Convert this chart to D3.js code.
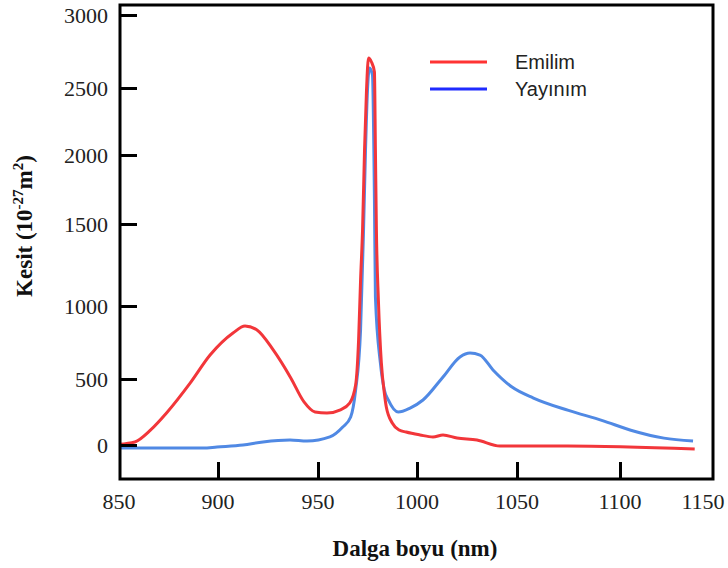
<!DOCTYPE html>
<html>
<head>
<meta charset="utf-8">
<script src="https://cdn.jsdelivr.net/npm/d3@7"></script>
<style>
  body { margin: 0; background: #fff; }
</style>
</head>
<body>
<div id="chart"></div>
<script>
// data (nm, 10^-27 m^2)
const emilim_x = [850, 858, 866, 874, 886, 896, 907.5, 913.5, 919.5, 927.6, 936.4, 943, 948.5, 954.5, 961, 966, 969, 970.5, 971.5, 972.5, 973.5, 974.5, 975.5, 977, 978.5, 979, 979.5, 980.5, 982, 983.5, 984.5, 987.5, 991, 994.5, 1001.5, 1008, 1013, 1020, 1030, 1041.5, 1074.5, 1145];
const emilim_y = [5, 23, 114, 242, 470, 664, 815, 863, 836, 699, 507, 326, 250, 242, 265, 318, 455, 767, 1159, 1463, 2037, 2485, 2705, 2678, 2610, 2037, 1463, 1037, 610, 394, 288, 167, 114, 98, 76, 61, 76, 53, 38, -8, -8, -30];

const yayinim_x = [850, 892.5, 899.5, 912.5, 922.5, 936, 944.5, 956, 962.5, 966.5, 969, 971.5, 973, 974, 975, 976, 977.5, 978.5, 979, 981.5, 983.5, 985.5, 990.5, 996.5, 1003, 1013, 1021.5, 1026.5, 1031.5, 1038, 1047.5, 1058, 1075, 1091.5, 1106.5, 1126.5, 1144];
const yayinim_y = [-23, -23, -15, 0, 23, 38, 30, 61, 136, 212, 417, 836, 1463, 2037, 2485, 2637, 2589, 1674, 1055, 610, 417, 341, 250, 280, 341, 514, 651, 678, 664, 562, 439, 356, 262, 185, 112, 52, 30];

const x_ticks = [850, 900, 950, 1000, 1050, 1100, 1150];
const y_ticks = [0, 500, 1000, 1500, 2000, 2500, 3000];
const series_names = ['Emilim', 'Yayınım'];

// layout
const SVG_WIDTH = 728;
const SVG_HEIGHT = 568;
// the hand drawn axes are not evenly spaced, so the scales are piecewise
const X_TICK_PX = [119, 218, 318, 417, 517, 620, 703];
const Y_TICK_PX = [445, 379, 306, 224, 155, 88, 15];
const FRAME = [5, 713, 479, 120];   // top, right, bottom, left
const TICK_LEN = 17;
const AXIS_W = 3;

const RED = '#f2363a';
const BLUE = '#5089e4';
const LEGEND_COLORS = ['#ff3333', '#1f2bff'];

const svg = d3.select('#chart')
    .append('svg')
    .attr('width', SVG_WIDTH)
    .attr('height', SVG_HEIGHT)
;

const x = d3.scaleLinear().domain(x_ticks).range(X_TICK_PX);
const y = d3.scaleLinear().domain(y_ticks).range(Y_TICK_PX);

const line = d3.line()
    .x(d => x(d[0]))
    .y(d => y(d[1]))
    .curve(d3.curveMonotoneX)
;

// curves
const curves = [
    {pts: d3.zip(yayinim_x, yayinim_y), color: BLUE},
    {pts: d3.zip(emilim_x, emilim_y), color: RED}
];
svg.append('g')
    .selectAll('path')
    .data(curves)
    .join('path')
    .attr('d', d => line(d.pts))
    .attr('fill', 'none')
    .attr('stroke', d => d.color)
    .attr('stroke-width', 3)
    .attr('stroke-linejoin', 'round')
;

// frame
svg.append('rect')
    .attr('x', FRAME[3])
    .attr('y', FRAME[0])
    .attr('width', FRAME[1] - FRAME[3])
    .attr('height', FRAME[2] - FRAME[0])
    .attr('fill', 'none')
    .attr('stroke', '#000')
    .attr('stroke-width', AXIS_W)
;

// y axis
const y_axis = d3.axisRight(y)
    .tickValues(y_ticks)
    .tickSize(TICK_LEN)
    .tickFormat('')
;
const yg = svg.append('g')
    .attr('transform', `translate(${FRAME[3]},0)`)
    .call(y_axis)
;
yg.select('.domain').remove();
yg.selectAll('line').attr('stroke', '#000').attr('stroke-width', AXIS_W);

svg.append('g')
    .selectAll('text')
    .data(y_ticks)
    .join('text')
    .attr('x', 108)
    .attr('y', d => y(d))
    .attr('dy', '0.35em')
    .attr('text-anchor', 'end')
    .attr('font-family', 'Liberation Serif, serif')
    .attr('font-size', 22)
    .attr('fill', '#222')
    .text(d => d)
;

// x axis
const x_axis = d3.axisTop(x)
    .tickValues(x_ticks.slice(1, -1))
    .tickSize(TICK_LEN)
    .tickFormat('')
;
const xg = svg.append('g')
    .attr('transform', `translate(0,${FRAME[2]})`)
    .call(x_axis)
;
xg.select('.domain').remove();
xg.selectAll('line').attr('stroke', '#000').attr('stroke-width', AXIS_W);

svg.append('g')
    .selectAll('text')
    .data(x_ticks)
    .join('text')
    .attr('x', d => x(d))
    .attr('y', 509)
    .attr('text-anchor', 'middle')
    .attr('font-family', 'Liberation Serif, serif')
    .attr('font-size', 22)
    .attr('fill', '#222')
    .text(d => d)
;

// axis titles
svg.append('text')
    .attr('x', 415)
    .attr('y', 556)
    .attr('text-anchor', 'middle')
    .attr('font-family', 'Liberation Serif, serif')
    .attr('font-weight', 'bold')
    .attr('font-size', 23)
    .attr('fill', '#111')
    .text('Dalga boyu (nm)')
;

const ylab = svg.append('text')
    .attr('transform', 'translate(32,226) rotate(-90)')
    .attr('text-anchor', 'middle')
    .attr('font-family', 'Liberation Serif, serif')
    .attr('font-weight', 'bold')
    .attr('font-size', 23)
    .attr('fill', '#111')
;
ylab.append('tspan').text('Kesit (10');
ylab.append('tspan').attr('dy', -9).attr('font-size', 15).text('-27');
ylab.append('tspan').attr('dy', 9).text('m');
ylab.append('tspan').attr('dy', -9).attr('font-size', 15).text('2');
ylab.append('tspan').attr('dy', 9).text(')');

// legend
const legend = svg.append('g')
    .selectAll('g')
    .data(series_names)
    .join('g')
    .attr('transform', (d, i) => `translate(430,${62 + i*27})`)
;
legend.append('line')
    .attr('x1', 0)
    .attr('x2', 57)
    .attr('stroke', (d, i) => LEGEND_COLORS[i])
    .attr('stroke-width', 3)
;
legend.append('text')
    .attr('x', 85)
    .attr('dy', '0.35em')
    .attr('font-family', 'Liberation Sans, Arial, sans-serif')
    .attr('font-size', 20)
    .attr('fill', '#222')
    .text(d => d)
;
</script>
</body>
</html>
